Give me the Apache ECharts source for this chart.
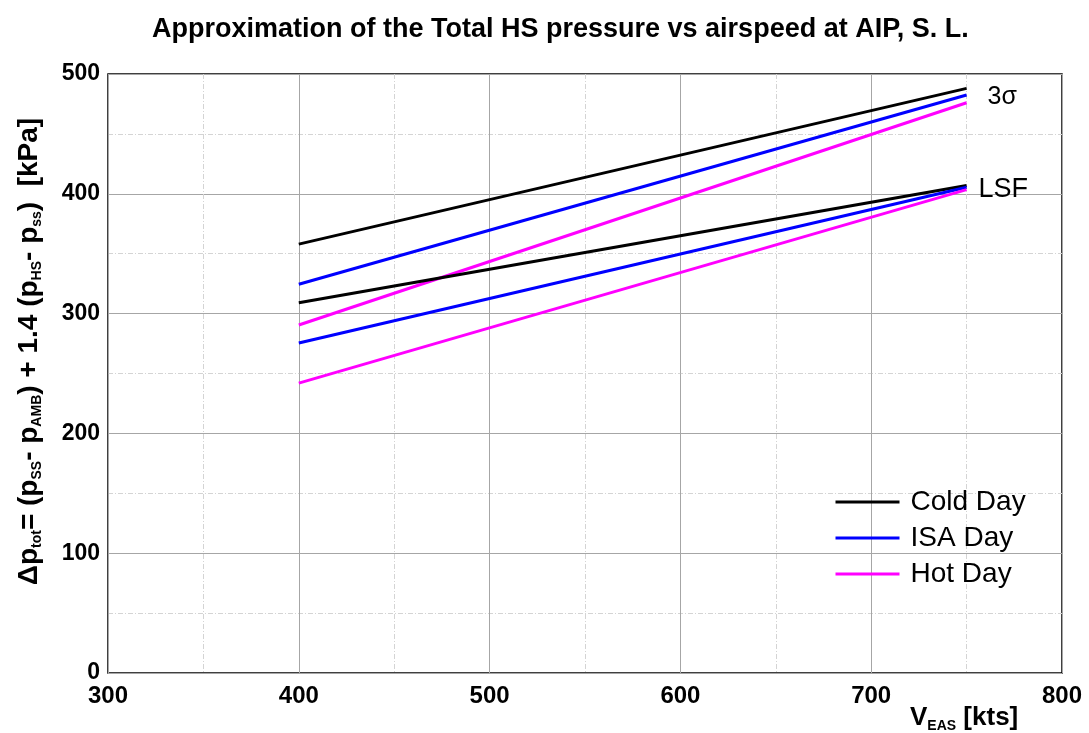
<!DOCTYPE html>
<html>
<head>
<meta charset="utf-8">
<script src="https://cdn.jsdelivr.net/npm/echarts@6/dist/echarts.min.js"></script>
<style>html,body{margin:0;padding:0;background:#fff;}#c{width:1089px;height:733px;}</style>
</head>
<body>
<div id="c"></div>
<script>
// ---- data ----
const speeds = [400, 750];               // V_EAS [kts]
const cold3s = [358, 488];               // 3 sigma, Cold Day
const isa3s  = [324.5, 482.5];           // 3 sigma, ISA Day
const hot3s  = [290.5, 476];             // 3 sigma, Hot Day
const coldLsf = [309, 407];              // LSF, Cold Day
const isaLsf  = [275.5, 405.5];          // LSF, ISA Day
const hotLsf  = [242, 403.5];            // LSF, Hot Day
const xTicks = [300, 400, 500, 600, 700, 800];
const yTicks = [0, 100, 200, 300, 400, 500];

const FONT = 'Liberation Sans, Arial, sans-serif';
const pair = (xs, ys) => xs.map((x, i) => [x, ys[i]]);

function mk(name, color, ys, label, off, fs) {
  const s = {
    name: name, type: 'line', data: pair(speeds, ys), symbol: 'none',
    lineStyle: { color: color, width: 3 }, itemStyle: { color: color },
    z: 5, animation: false
  };
  if (label) {
    s.endLabel = { show: true, formatter: label, color: '#000', fontSize: fs,
      fontFamily: FONT, offset: off, distance: 5 };
  }
  return s;
}

const chart = echarts.init(document.getElementById('c'), null, { renderer: 'canvas' });
chart.setOption({
  animation: false,
  backgroundColor: '#fff',
  title: {
    text: 'Approximation of the Total HS pressure vs airspeed at AIP, S. L.',
    left: 147, top: 11,
    textStyle: { fontFamily: FONT, fontWeight: 'bold', fontSize: 27, color: '#000' }
  },
  grid: { left: 108, right: 27, top: 74, bottom: 60, show: true,
          borderColor: '#000', borderWidth: 1.5, backgroundColor: 'transparent' },
  legend: {
    orient: 'vertical', left: 829, top: 483,
    itemWidth: 64, itemHeight: 20, itemGap: 8,
    data: ['Cold Day', 'ISA Day', 'Hot Day'],
    itemStyle: { opacity: 0 },
    lineStyle: { width: 3 },
    textStyle: { fontFamily: FONT, fontSize: 28, color: '#000', padding: [0, 0, 0, 6] }
  },
  xAxis: {
    type: 'value', min: xTicks[0], max: xTicks[xTicks.length - 1], interval: 100,
    axisLine: { show: false }, axisTick: { show: false },
    axisLabel: { fontFamily: FONT, fontWeight: 'bold', fontSize: 24, color: '#000', margin: 11 },
    splitLine: { show: true, lineStyle: { color: '#a6a6a6', width: 1 } },
    minorTick: { show: false, splitNumber: 2 },
    minorSplitLine: { show: true, lineStyle: { color: '#d4d4d4', width: 1, type: [5, 2, 1, 2] } },
    name: 'V{sub|EAS} [kts]', nameLocation: 'end', nameGap: -152,
    nameTextStyle: {
      fontFamily: FONT, fontWeight: 'bold', fontSize: 26, color: '#000',
      align: 'left', verticalAlign: 'top', padding: [30, 0, 0, 0],
      rich: { sub: { fontFamily: FONT, fontWeight: 'bold', fontSize: 14, color: '#000',
                     verticalAlign: 'bottom', padding: [16, 0, 0, 0] } }
    }
  },
  yAxis: {
    type: 'value', min: yTicks[0], max: yTicks[yTicks.length - 1], interval: 100,
    axisLine: { show: false }, axisTick: { show: false },
    axisLabel: { fontFamily: FONT, fontWeight: 'bold', fontSize: 23, color: '#000', margin: 8 },
    splitLine: { show: true, lineStyle: { color: '#a6a6a6', width: 1 } },
    minorTick: { show: false, splitNumber: 2 },
    minorSplitLine: { show: true, lineStyle: { color: '#d4d4d4', width: 1, type: [5, 2, 1, 2] } },
    name: 'Δp{sub|tot}= (p{sub|SS}- p{sub|AMB}) + 1.4 (p{sub|HS}- p{sub|ss})  [kPa]',
    nameLocation: 'middle', nameRotate: 90, nameGap: 64,
    nameTextStyle: {
      fontFamily: FONT, fontWeight: 'bold', fontSize: 28, color: '#000',
      padding: [0, 0, 0, 44],
      rich: { sub: { fontFamily: FONT, fontWeight: 'bold', fontSize: 14, color: '#000',
                     verticalAlign: 'bottom', padding: [16, 0, 0, 0] } }
    }
  },
  series: [
    mk('Cold Day', '#000000', cold3s, '3σ', [16, 9], 25),
    mk('ISA Day', '#0000ff', isa3s),
    mk('Hot Day', '#ff00ff', hot3s),
    mk('Cold Day', '#000000', coldLsf, 'LSF', [7, 4], 27),
    mk('ISA Day', '#0000ff', isaLsf),
    mk('Hot Day', '#ff00ff', hotLsf)
  ]
});
</script>
</body>
</html>
